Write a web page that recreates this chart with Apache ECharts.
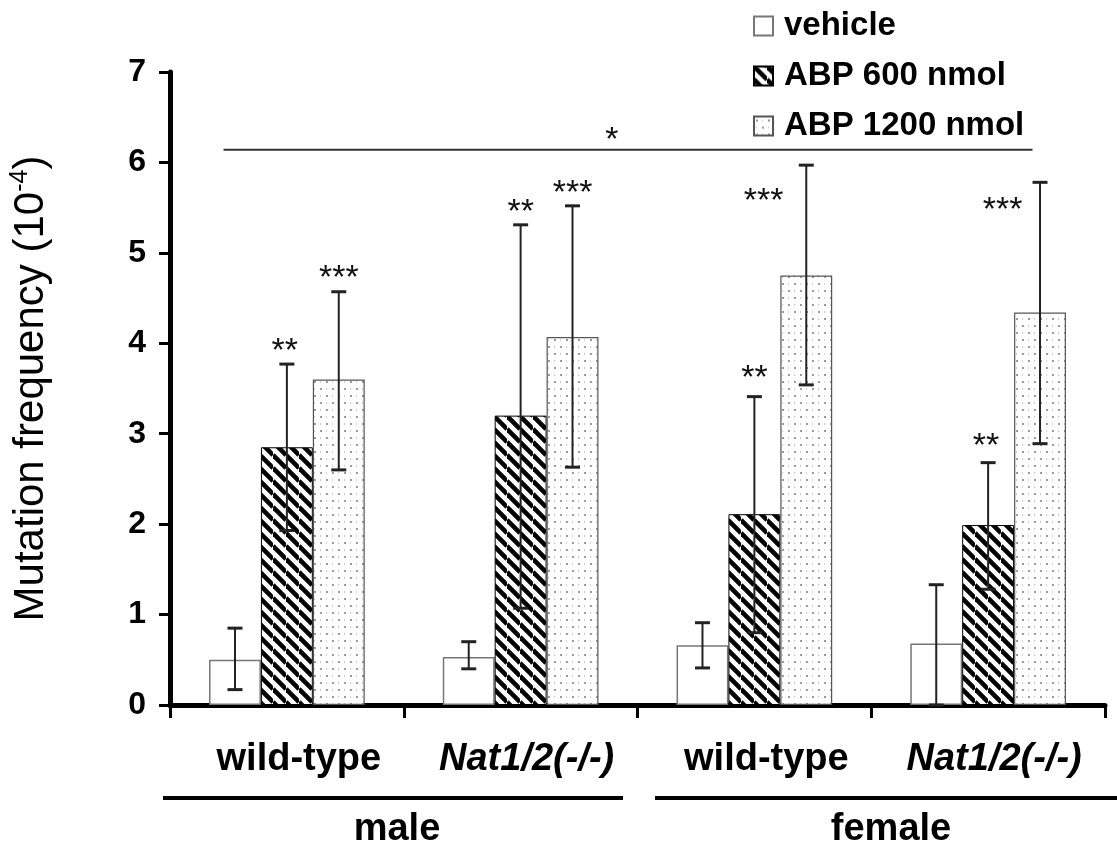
<!DOCTYPE html>
<html><head><meta charset="utf-8">
<script src="https://cdn.jsdelivr.net/npm/echarts@6/dist/echarts.min.js"></script>
<style>html,body{margin:0;padding:0;background:#fff}#c{width:1117px;height:848px}</style>
</head><body><div id="c"></div>
<script>
// ---- data ----
const categories = ['wild-type', 'Nat1/2(-/-)', 'wild-type', 'Nat1/2(-/-)'];
const sexGroups = ['male', 'female'];
const seriesNames = ['vehicle', 'ABP 600 nmol', 'ABP 1200 nmol'];
const vehicle = [0.50, 0.53, 0.66, 0.68];
const abp600 = [2.85, 3.20, 2.11, 1.99];
const abp1200 = [3.60, 4.07, 4.75, 4.34];
const vehicleErr = [[0.17, 0.85], [0.40, 0.70], [0.41, 0.91], [0.00, 1.33]];
const abp600Err = [[1.93, 3.77], [1.07, 5.31], [0.80, 3.41], [1.28, 2.68]];
const abp1200Err = [[2.60, 4.57], [2.63, 5.52], [3.54, 5.97], [2.89, 5.78]];
const stars600 = ['**', '**', '**', '**'];
const stars600Y = [4.00, 5.53, 3.70, 2.95];
const stars1200 = ['***', '***', '***', '***'];
const stars1200Y = [4.80, 5.74, 5.66, 5.55];
const yTicks = [0, 1, 2, 3, 4, 5, 6, 7];
const overallSigLabel = '*';
const overallSigY = 6.14;

// ---- styles ----
const FONT = 'Arial, "Liberation Sans", sans-serif';
const BAR_FRAC = 0.222;
const starShift1200 = [0, 0, -0.82, -0.72]; // in bar widths
const starShift600 = [-0.04, 0, 0, -0.04];
const STAR_FONT = '34px ' + FONT;
const STAR_DY = 8;

function hatchPattern() {
  const s = 13, c = document.createElement('canvas');
  c.width = s; c.height = s;
  const g = c.getContext('2d');
  g.fillStyle = '#fff'; g.fillRect(0, 0, s, s);
  g.strokeStyle = '#000'; g.lineWidth = 4.6;
  [-s, 0, s].forEach(k => { g.beginPath(); g.moveTo(0, k); g.lineTo(s, s + k); g.stroke(); });
  return { image: c, repeat: 'repeat' };
}
function dotPattern() {
  const w = 12, h = 14, c = document.createElement('canvas');
  c.width = w; c.height = h;
  const g = c.getContext('2d');
  g.fillStyle = '#fff'; g.fillRect(0, 0, w, h);
  g.fillStyle = '#9a9a9a';
  g.fillRect(2, 3, 2, 2); g.fillRect(8, 10, 2, 2);
  g.fillStyle = '#cfcfcf';
  g.fillRect(8, 3, 1, 2); g.fillRect(2, 10, 1, 2);
  return { image: c, repeat: 'repeat' };
}

const chart = echarts.init(document.getElementById('c'), null, { renderer: 'canvas' });

function errSeries(k, errs) {
  return {
    type: 'custom', name: seriesNames[k] + ' error', z: 5, silent: true,
    renderItem: (params, api) => {
      const c = api.value(0);
      const lo = api.coord([c, api.value(1)]);
      const hi = api.coord([c, api.value(2)]);
      const band = api.size([1, 0])[0];
      const x = lo[0] + (k - 1) * band * BAR_FRAC;
      const cap = 7.5;
      return { type: 'group', children: [
        { type: 'line', shape: { x1: x, y1: lo[1], x2: x, y2: hi[1] }, style: { stroke: '#222', lineWidth: 2 } },
        { type: 'line', shape: { x1: x - cap, y1: hi[1], x2: x + cap, y2: hi[1] }, style: { stroke: '#222', lineWidth: 3 } },
        { type: 'line', shape: { x1: x - cap, y1: lo[1], x2: x + cap, y2: lo[1] }, style: { stroke: '#222', lineWidth: 3 } }
      ] };
    },
    data: errs.map((e, i) => [i, e[0], e[1]])
  };
}
function starSeries(k, texts, ys, shifts) {
  return {
    type: 'custom', name: seriesNames[k] + ' stars', z: 6, silent: true,
    renderItem: (params, api) => {
      const i = params.dataIndex;
      const c = api.value(0);
      const p = api.coord([c, api.value(1)]);
      const band = api.size([1, 0])[0];
      const bw = band * BAR_FRAC;
      const x = p[0] + (k - 1) * bw + shifts[i] * bw;
      return { type: 'text', x: x, y: p[1] + STAR_DY, style: {
        text: texts[i], font: STAR_FONT, fill: '#111',
        align: 'center', verticalAlign: 'middle', textAlign: 'center', textVerticalAlign: 'middle' } };
    },
    data: ys.map((v, i) => [i, v])
  };
}

const option = {
  animation: false,
  backgroundColor: '#fff',
  grid: { left: 170, right: 12, top: 72, bottom: 143, containLabel: false, outerBoundsMode: 'none' },
  legend: {
    orient: 'vertical', left: 748, top: 4, itemWidth: 19, itemHeight: 19, itemGap: 16,
    selectedMode: false, icon: 'rect',
    textStyle: { fontSize: 33, fontWeight: 'bold', fontFamily: FONT, color: '#000', lineHeight: 34, padding: [0, 0, 0, 6] },
    data: seriesNames
  },
  xAxis: {
    type: 'category', data: categories,
    axisLine: { lineStyle: { color: '#000', width: 5 } },
    axisTick: { show: true, length: 13, lineStyle: { color: '#000', width: 3 } },
    axisLabel: {
      margin: 36, interval: 0,
      formatter: v => v.indexOf('Nat') === 0 ? '{i|' + v + '}' : '{b|' + v + '}',
      rich: {
        b: { fontSize: 38, fontWeight: 'bold', fontFamily: FONT, color: '#000', padding: [0, 0, 0, 24] },
        i: { fontSize: 38, fontWeight: 'bold', fontStyle: 'italic', fontFamily: FONT, color: '#000', padding: [0, 0, 0, 12] }
      }
    },
    splitLine: { show: false }
  },
  yAxis: {
    type: 'value', min: 0, max: 7, interval: 1,
    axisLine: { show: true, lineStyle: { color: '#000', width: 5 } },
    axisTick: { show: true, length: 11, lineStyle: { color: '#000', width: 3 } },
    axisLabel: { margin: 24, fontSize: 32, fontWeight: 'bold', fontFamily: FONT, color: '#000',
      formatter: v => yTicks.indexOf(v) >= 0 ? String(v) : '' },
    splitLine: { show: false },
    name: '{m|Mutation frequency (10}{s|-4}{m|)}',
    nameLocation: 'middle', nameRotate: 90, nameGap: 116,
    nameTextStyle: {
      rich: {
        m: { fontSize: 42, fontFamily: FONT, color: '#000', lineHeight: 46 },
        s: { fontSize: 25, fontFamily: FONT, color: '#000', verticalAlign: 'top', lineHeight: 46 }
      }
    }
  },
  series: [
    { type: 'bar', name: seriesNames[0], data: vehicle, barWidth: '22.2%', barGap: '0%',
      itemStyle: { color: '#fff', borderColor: '#777', borderWidth: 1.5 }, emphasis: { disabled: true } },
    { type: 'bar', name: seriesNames[1], data: abp600, barWidth: '22.2%', barGap: '0%',
      itemStyle: { color: hatchPattern(), borderColor: '#000', borderWidth: 1 }, emphasis: { disabled: true } },
    { type: 'bar', name: seriesNames[2], data: abp1200, barWidth: '22.2%', barGap: '0%',
      itemStyle: { color: dotPattern(), borderColor: '#555', borderWidth: 1.2 }, emphasis: { disabled: true } },
    errSeries(0, vehicleErr),
    errSeries(1, abp600Err),
    errSeries(2, abp1200Err),
    starSeries(1, stars600, stars600Y, starShift600),
    starSeries(2, stars1200, stars1200Y, starShift1200),
    {
      type: 'custom', name: 'overall', z: 6, silent: true,
      renderItem: (params, api) => {
        const band = api.size([1, 0])[0];
        const a = api.coord([0, api.value(1)]);
        const b = api.coord([categories.length - 1, api.value(1)]);
        const x1 = a[0] - 0.271 * band, x2 = b[0] + 0.19 * band;
        return { type: 'group', children: [
          { type: 'line', shape: { x1: x1, y1: a[1], x2: x2, y2: a[1] }, style: { stroke: '#333', lineWidth: 2 } },
          { type: 'text', x: x1 + (x2 - x1) * 0.48, y: a[1] - 17 + STAR_DY, style: { text: overallSigLabel, font: STAR_FONT, fill: '#111',
            align: 'center', verticalAlign: 'middle', textAlign: 'center', textVerticalAlign: 'middle' } }
        ] };
      },
      data: [[0, overallSigY]]
    }
  ],
  graphic: [
    { type: 'rect', shape: { x: 163, y: 796, width: 460, height: 4 }, style: { fill: '#000' } },
    { type: 'rect', shape: { x: 655, y: 796, width: 462, height: 4 }, style: { fill: '#000' } },
    { type: 'text', x: 397, y: 830, style: { text: sexGroups[0], font: 'bold 38px ' + FONT, fill: '#000', align: 'center', verticalAlign: 'middle', textAlign: 'center', textVerticalAlign: 'middle' } },
    { type: 'text', x: 891, y: 830, style: { text: sexGroups[1], font: 'bold 38px ' + FONT, fill: '#000', align: 'center', verticalAlign: 'middle', textAlign: 'center', textVerticalAlign: 'middle' } }
  ]
};
chart.setOption(option);
</script></body></html>
